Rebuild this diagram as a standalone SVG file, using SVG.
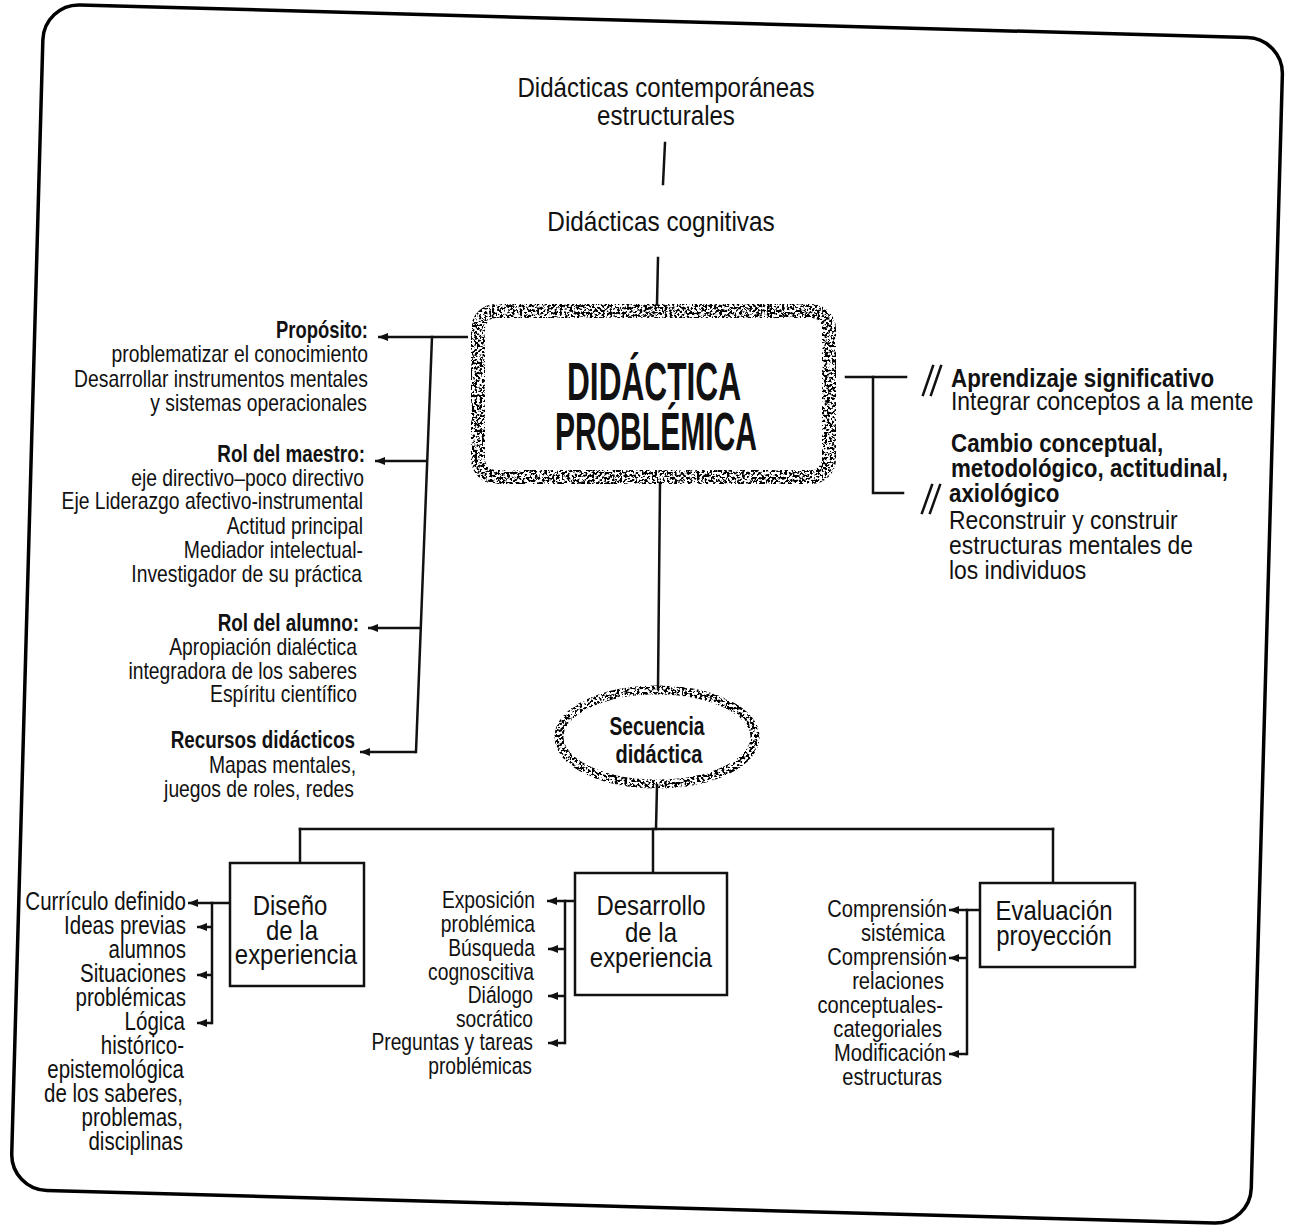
<svg xmlns="http://www.w3.org/2000/svg" width="1290" height="1226" viewBox="0 0 1290 1226">
  <defs>
    <style>
      .t { font-family: "Liberation Sans", Arial, sans-serif; fill: #111; }
      .b { font-weight: 700; }
      .end { text-anchor: end; }
      .mid { text-anchor: middle; }
      .ln { stroke: #111; stroke-width: 2.5; fill: none; stroke-linecap: square; }
      .arr { stroke: #111; stroke-width: 2.5; fill: none; marker-end: url(#head); }
      .box { stroke: #111; stroke-width: 2.5; fill: #fff; }
      .left { font-size: 23px; }
      .right { font-size: 26px; }
      .l1 { font-size: 25px; }
      .l2 { font-size: 23.5px; }
      .l3 { font-size: 24px; }
      .lab { font-size: 27.5px; }
      .top { font-size: 28px; }
    </style>
    <marker id="head" viewBox="0 0 10 8" refX="10" refY="4" markerWidth="10" markerHeight="8" markerUnits="userSpaceOnUse" orient="auto">
      <path d="M0,0 L10,4 L0,8 z" fill="#111"/>
    </marker>
    <!-- speckled ink for the hand-stippled outlines -->
    <filter id="grain" x="-10%" y="-10%" width="120%" height="120%">
      <feTurbulence type="fractalNoise" baseFrequency="0.4" numOctaves="3" seed="11" result="noise"/>
      <feColorMatrix in="noise" type="matrix" values="0 0 0 0 0  0 0 0 0 0  0 0 0 0 0  12 0 0 0 -5.7" result="mask"/>
      <feComposite in="SourceGraphic" in2="mask" operator="in"/>
    </filter>
  </defs>

  <rect width="1290" height="1226" fill="#fff"/>

  <!-- outer frame -->
  <rect x="27" y="21" width="1240" height="1186" rx="36" transform="rotate(1.6 647 616)" fill="none" stroke="#000" stroke-width="3.5"/>

  <!-- connectors -->
  <g id="connectors">
    <line class="ln" x1="665" y1="143" x2="663" y2="184"/>
    <line class="ln" x1="658" y1="258" x2="657" y2="304"/>
    <!-- left branch -->
    <line class="arr" x1="468" y1="337" x2="378" y2="337"/>
    <line class="ln" x1="432" y1="337" x2="416" y2="752"/>
    <line class="arr" x1="427" y1="461" x2="375" y2="461"/>
    <line class="arr" x1="421" y1="628" x2="368" y2="628"/>
    <line class="arr" x1="416" y1="752" x2="360" y2="752"/>
    <!-- right bracket -->
    <polyline class="ln" points="846,377 906,377"/>
    <polyline class="ln" points="873,377 873,493 903,493"/>
    <path class="ln" d="M923,395 L933,366 M931,395 L941,366 M922,513 L932,485 M930,513 L940,485"/>
    <!-- trunk to sequence and to the three stages -->
    <line class="ln" x1="660" y1="483" x2="658" y2="689"/>
    <line class="ln" x1="657" y1="785" x2="656" y2="829"/>
    <line class="ln" x1="300" y1="829" x2="1053" y2="829"/>
    <line class="ln" x1="300" y1="829" x2="300" y2="864"/>
    <line class="ln" x1="653" y1="829" x2="653" y2="873"/>
    <line class="ln" x1="1053" y1="829" x2="1053" y2="883"/>
    <!-- design list -->
    <line class="arr" x1="230" y1="903" x2="188" y2="903"/>
    <line class="ln" x1="212" y1="903" x2="212" y2="1023"/>
    <line class="arr" x1="212" y1="927" x2="197" y2="927"/>
    <line class="arr" x1="212" y1="975" x2="197" y2="975"/>
    <line class="arr" x1="212" y1="1023" x2="197" y2="1023"/>
    <!-- development list -->
    <line class="arr" x1="575" y1="901" x2="547" y2="901"/>
    <line class="ln" x1="565" y1="901" x2="565" y2="1043"/>
    <line class="arr" x1="565" y1="949" x2="548" y2="949"/>
    <line class="arr" x1="565" y1="996" x2="548" y2="996"/>
    <line class="arr" x1="565" y1="1043" x2="548" y2="1043"/>
    <!-- evaluation list -->
    <line class="arr" x1="980" y1="910" x2="949" y2="910"/>
    <line class="ln" x1="967" y1="910" x2="967" y2="1054"/>
    <line class="arr" x1="967" y1="958" x2="949" y2="958"/>
    <line class="arr" x1="967" y1="1054" x2="949" y2="1054"/>
  </g>

  <g id="contemporaneas" class="t top mid">
    <text transform="translate(666 97) scale(0.86 1)">Didácticas contemporáneas</text>
    <text transform="translate(666 125) scale(0.86 1)">estructurales</text>
  </g>

  <g id="cognitivas" class="t top mid">
    <text transform="translate(661 231) scale(0.87 1)">Didácticas cognitivas</text>
  </g>

  <g id="didactica-problemica">
    <rect x="478" y="311" width="351" height="166" rx="18" fill="#fff" stroke="#000" stroke-width="14" filter="url(#grain)"/>
    <text class="t b mid" x="654" y="400" font-size="54" textLength="174" lengthAdjust="spacingAndGlyphs">DIDÁCTICA</text>
    <text class="t b mid" x="656" y="450" font-size="54" textLength="202" lengthAdjust="spacingAndGlyphs">PROBLÉMICA</text>
  </g>

  <g id="proposito" class="t left end">
    <text class="b" transform="translate(368 338) scale(0.8 1)">Propósito:</text>
    <text transform="translate(368 362) scale(0.84 1)">problematizar el conocimiento</text>
    <text transform="translate(368 387) scale(0.84 1)">Desarrollar instrumentos mentales</text>
    <text transform="translate(367 411) scale(0.84 1)">y sistemas operacionales</text>
  </g>

  <g id="rol-maestro" class="t left end">
    <text class="b" transform="translate(365 462) scale(0.82 1)">Rol del maestro:</text>
    <text transform="translate(364 486) scale(0.84 1)">eje directivo–poco directivo</text>
    <text transform="translate(363 509) scale(0.84 1)">Eje Liderazgo afectivo-instrumental</text>
    <text transform="translate(363 534) scale(0.84 1)">Actitud principal</text>
    <text transform="translate(363 558) scale(0.84 1)">Mediador intelectual-</text>
    <text transform="translate(362 582) scale(0.84 1)">Investigador de su práctica</text>
  </g>

  <g id="rol-alumno" class="t left end">
    <text class="b" transform="translate(359 631) scale(0.82 1)">Rol del alumno:</text>
    <text transform="translate(357 655) scale(0.84 1)">Apropiación dialéctica</text>
    <text transform="translate(357 679) scale(0.84 1)">integradora de los saberes</text>
    <text transform="translate(357 702) scale(0.84 1)">Espíritu científico</text>
  </g>

  <g id="recursos" class="t left end">
    <text class="b" transform="translate(355 748) scale(0.82 1)">Recursos didácticos</text>
    <text transform="translate(356 773) scale(0.84 1)">Mapas mentales,</text>
    <text transform="translate(354 797) scale(0.84 1)">juegos de roles, redes</text>
  </g>

  <g id="aprendizaje" class="t right">
    <text class="b" transform="translate(951 387) scale(0.86 1)">Aprendizaje significativo</text>
    <text transform="translate(951 410) scale(0.88 1)">Integrar conceptos a la mente</text>
  </g>

  <g id="cambio" class="t right">
    <text class="b" transform="translate(951 452) scale(0.86 1)">Cambio conceptual,</text>
    <text class="b" transform="translate(951 477) scale(0.86 1)">metodológico, actitudinal,</text>
    <text class="b" transform="translate(949 502) scale(0.86 1)">axiológico</text>
    <text transform="translate(949 529) scale(0.88 1)">Reconstruir y construir</text>
    <text transform="translate(949 554) scale(0.88 1)">estructuras mentales de</text>
    <text transform="translate(949 579) scale(0.88 1)">los individuos</text>
  </g>

  <g id="secuencia">
    <ellipse cx="657" cy="737" rx="98" ry="47" fill="#fff" stroke="#000" stroke-width="9" filter="url(#grain)"/>
    <text class="t b mid" x="657" y="735" font-size="26" textLength="95" lengthAdjust="spacingAndGlyphs">Secuencia</text>
    <text class="t b mid" x="659" y="763" font-size="26" textLength="87" lengthAdjust="spacingAndGlyphs">didáctica</text>
  </g>

  <g id="diseno" class="t lab mid">
    <rect class="box" x="230" y="863" width="134" height="123"/>
    <text transform="translate(290 915) scale(0.87 1)">Diseño</text>
    <text transform="translate(292 940) scale(0.87 1)">de la</text>
    <text transform="translate(296 964) scale(0.87 1)">experiencia</text>
  </g>

  <g id="diseno-items" class="t l1 end">
    <text transform="translate(186 910) scale(0.82 1)">Currículo definido</text>
    <text transform="translate(186 934) scale(0.82 1)">Ideas previas</text>
    <text transform="translate(186 958) scale(0.82 1)">alumnos</text>
    <text transform="translate(186 982) scale(0.82 1)">Situaciones</text>
    <text transform="translate(186 1006) scale(0.82 1)">problémicas</text>
    <text transform="translate(185 1030) scale(0.82 1)">Lógica</text>
    <text transform="translate(184 1054) scale(0.82 1)">histórico-</text>
    <text transform="translate(184 1078) scale(0.82 1)">epistemológica</text>
    <text transform="translate(183 1102) scale(0.82 1)">de los saberes,</text>
    <text transform="translate(183 1126) scale(0.82 1)">problemas,</text>
    <text transform="translate(183 1150) scale(0.82 1)">disciplinas</text>
  </g>

  <g id="desarrollo" class="t lab mid">
    <rect class="box" x="575" y="873" width="152" height="122"/>
    <text transform="translate(651 915) scale(0.87 1)">Desarrollo</text>
    <text transform="translate(651 942) scale(0.87 1)">de la</text>
    <text transform="translate(651 967) scale(0.87 1)">experiencia</text>
  </g>

  <g id="desarrollo-items" class="t l2 end">
    <text transform="translate(535 908) scale(0.82 1)">Exposición</text>
    <text transform="translate(535 932) scale(0.82 1)">problémica</text>
    <text transform="translate(535 956) scale(0.82 1)">Búsqueda</text>
    <text transform="translate(534 980) scale(0.82 1)">cognoscitiva</text>
    <text transform="translate(533 1003) scale(0.82 1)">Diálogo</text>
    <text transform="translate(533 1027) scale(0.82 1)">socrático</text>
    <text transform="translate(533 1050) scale(0.82 1)">Preguntas y tareas</text>
    <text transform="translate(532 1074) scale(0.82 1)">problémicas</text>
  </g>

  <g id="evaluacion" class="t lab mid">
    <rect class="box" x="980" y="883" width="155" height="84"/>
    <text transform="translate(1054 920) scale(0.87 1)">Evaluación</text>
    <text transform="translate(1054 945) scale(0.87 1)">proyección</text>
  </g>

  <g id="evaluacion-items" class="t l3 end">
    <text transform="translate(947 917) scale(0.84 1)">Comprensión</text>
    <text transform="translate(945 941) scale(0.84 1)">sistémica</text>
    <text transform="translate(947 965) scale(0.84 1)">Comprensión</text>
    <text transform="translate(944 989) scale(0.84 1)">relaciones</text>
    <text transform="translate(943 1013) scale(0.84 1)">conceptuales-</text>
    <text transform="translate(942 1037) scale(0.84 1)">categoriales</text>
    <text transform="translate(946 1061) scale(0.84 1)">Modificación</text>
    <text transform="translate(942 1085) scale(0.84 1)">estructuras</text>
  </g>
</svg>
